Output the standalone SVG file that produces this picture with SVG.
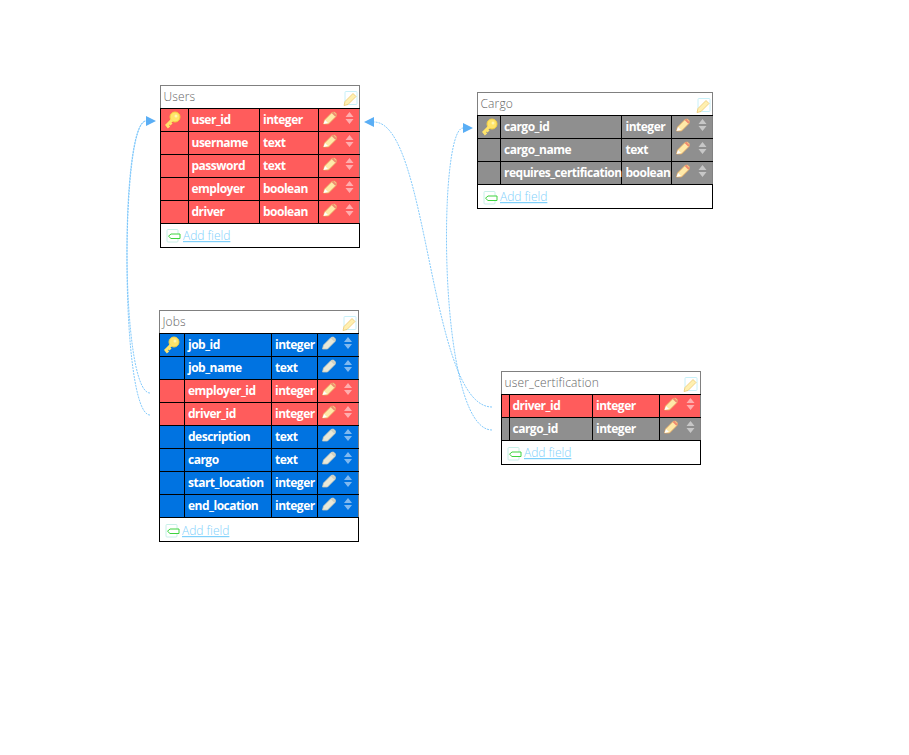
<svg xmlns="http://www.w3.org/2000/svg" xmlns:xlink="http://www.w3.org/1999/xlink" width="909" height="755" viewBox="0 0 909 755">
<style>
text{font-family:"Open Sans","Noto Sans","DejaVu Sans",sans-serif}
.box{fill:#fff;stroke:#000;stroke-width:1;shape-rendering:crispEdges}
.top{stroke:#808080;fill:none;stroke-width:1;shape-rendering:crispEdges}
.sep{stroke:#000;stroke-width:1;shape-rendering:crispEdges;fill:none}
.r{fill:#ff5c5c;shape-rendering:crispEdges}.b{fill:#0073e1;shape-rendering:crispEdges}.g{fill:#8f8f8f;shape-rendering:crispEdges}
.t{font-size:12px;font-weight:300;fill:#666;letter-spacing:.15px}
.f{font-size:12px;font-weight:700;fill:#fff;letter-spacing:-.5px}
.a{font-size:12px;font-weight:300;fill:#7fd0fb;text-decoration:underline}
.c{fill:none;stroke:#76c4fa;stroke-width:.9;stroke-dasharray:2 1}
</style>
<defs>
<marker id="arr" markerUnits="userSpaceOnUse" markerWidth="10" markerHeight="10" refX="0" refY="5" orient="auto"><path d="M0 0L10 5L0 10z" fill="#5aaef5"/></marker>
<g id="key"><circle cx="3" cy="-3" r="5" fill="#ffe46a" stroke="#f5d040"/><circle cx="4" cy="-4" r="1.500" fill="#fff6b0"/><path d="M0 0L-6 6M-5 5L-3 7.500M-2.500 2.500L-.5 4.500" stroke="#ffe46a" stroke-width="3" fill="none"/></g>
<g id="pen"><path d="M-6.500 6L-5.500 2L2-5.500L4.500-6L6.500-4L6-1.500L-1.500 6z" fill="#ffe9a8" stroke="#e8a860" stroke-width=".8"/><path d="M2.500-5.500L6-2" stroke="#f08a70" stroke-width="2"/><path d="M-6.500 6L-5 2L-2 5z" fill="#fff"/></g>
<g id="pen2"><path d="M-6.500 6L-5.500 2L2-5.500L4.500-6L6.500-4L6-1.500L-1.500 6z" fill="#e8e8d8" stroke="#c8c8b8" stroke-width=".8"/><path d="M2.500-5.500L6-2" stroke="#d0d0c0" stroke-width="2"/></g>
<g id="ud"><path d="M-4-1L0-6L4-1zM-4 1L0 6L4 1z" fill="#fff" fill-opacity=".5"/></g>
<g id="tp"><rect x="-6" y="-7" width="12" height="13" rx="1" fill="#fff" stroke="#c8f0f8"/><path d="M-7 7L-6 3L2-5L5-2L-3 6z" fill="#fff0b0" stroke="#ecc870" stroke-width=".8"/></g>
<g id="ad"><rect x="-6" y="-6.500" width="11" height="12.500" rx="1" fill="#fff" stroke="#c8f0e8"/><path d="M-2-2H7V2.500H-2L-4.500 .2z" fill="#fff" stroke="#3ed43e"/></g>
</defs>
<g id="connectors">
<path class="c" d="M150 393C120 393 120 121 146 121" marker-end="url(#arr)"/>
<path class="c" d="M150 415C120 415 120 121 146 121"/>
<path class="c" d="M492 407C429 407 429 122 374 122" marker-end="url(#arr)"/>
<path class="c" d="M492 430C437.500 430 437.500 128 463 128" marker-end="url(#arr)"/>
</g>
<g id="node-users">
<rect class="box" x="160.500" y="85.500" width="199" height="162"/>
<path class="top" d="M160.500 108V85.500H359.500V223"/>
<text class="t" x="163.500" y="101">Users</text><use href="#tp" x="351" y="98.500"/>
<rect class="r" x="161" y="109" width="198" height="114"/>
<path class="sep" d="M160 108.500H360M160 131.500H360M160 154.500H360M160 177.500H360M160 200.500H360M160 223.500H360M188.500 108V223M259.500 108V223M318.500 108V223"/>
<use href="#key" x="172" y="120"/>
<text class="f" x="191.500" y="124">user_id</text><text class="f" x="263" y="124">integer</text><use href="#pen" x="330" y="118"/><use href="#ud" x="349.500" y="118"/>
<text class="f" x="191.500" y="147">username</text><text class="f" x="263" y="147">text</text><use href="#pen" x="330" y="141"/><use href="#ud" x="349.500" y="141"/>
<text class="f" x="191.500" y="170">password</text><text class="f" x="263" y="170">text</text><use href="#pen" x="330" y="164"/><use href="#ud" x="349.500" y="164"/>
<text class="f" x="191.500" y="193">employer</text><text class="f" x="263" y="193">boolean</text><use href="#pen" x="330" y="187"/><use href="#ud" x="349.500" y="187"/>
<text class="f" x="191.500" y="216">driver</text><text class="f" x="263" y="216">boolean</text><use href="#pen" x="330" y="210"/><use href="#ud" x="349.500" y="210"/>
<use href="#ad" x="173" y="236"/><text class="a" x="183" y="240">Add field</text>
</g>
<g id="node-jobs">
<rect class="box" x="159.500" y="310.500" width="199" height="231"/>
<path class="top" d="M159.500 333V310.500H358.500V517"/>
<text class="t" x="162.500" y="326">Jobs</text><use href="#tp" x="350" y="323.500"/>
<rect class="b" x="160" y="334" width="198" height="183"/>
<rect class="r" x="160" y="380" width="198" height="46"/>
<path class="sep" d="M159 333.500H359M159 356.500H359M159 379.500H359M159 402.500H359M159 425.500H359M159 448.500H359M159 471.500H359M159 494.500H359M159 517.500H359M184.500 333V517M271.500 333V517M317.500 333V517"/>
<use href="#key" x="171" y="345"/>
<text class="f" x="188" y="349">job_id</text><text class="f" x="275" y="349">integer</text><use href="#pen2" x="329" y="343"/><use href="#ud" x="348" y="343"/>
<text class="f" x="188" y="372">job_name</text><text class="f" x="275" y="372">text</text><use href="#pen2" x="329" y="366"/><use href="#ud" x="348" y="366"/>
<text class="f" x="188" y="395">employer_id</text><text class="f" x="275" y="395">integer</text><use href="#pen" x="329" y="389"/><use href="#ud" x="348" y="389"/>
<text class="f" x="188" y="418">driver_id</text><text class="f" x="275" y="418">integer</text><use href="#pen" x="329" y="412"/><use href="#ud" x="348" y="412"/>
<text class="f" x="188" y="441">description</text><text class="f" x="275" y="441">text</text><use href="#pen2" x="329" y="435"/><use href="#ud" x="348" y="435"/>
<text class="f" x="188" y="464">cargo</text><text class="f" x="275" y="464">text</text><use href="#pen2" x="329" y="458"/><use href="#ud" x="348" y="458"/>
<text class="f" x="188" y="487">start_location</text><text class="f" x="275" y="487">integer</text><use href="#pen2" x="329" y="481"/><use href="#ud" x="348" y="481"/>
<text class="f" x="188" y="510">end_location</text><text class="f" x="275" y="510">integer</text><use href="#pen2" x="329" y="504"/><use href="#ud" x="348" y="504"/>
<use href="#ad" x="172" y="531"/><text class="a" x="182" y="535">Add field</text>
</g>
<g id="node-cargo">
<rect class="box" x="477.500" y="92.500" width="235" height="116"/>
<path class="top" d="M477.500 115V92.500H712.500V184"/>
<text class="t" x="480.500" y="108">Cargo</text><use href="#tp" x="704" y="105.500"/>
<rect class="g" x="478" y="116" width="234" height="68"/>
<path class="sep" d="M477 115.500H713M477 138.500H713M477 161.500H713M477 184.500H713M500.500 115V184M621.500 115V184M671.500 115V184"/>
<use href="#key" x="489" y="127"/>
<text class="f" x="504" y="131">cargo_id</text><text class="f" x="625.500" y="131">integer</text><use href="#pen" x="683" y="125"/><use href="#ud" x="702.500" y="125"/>
<text class="f" x="504" y="154">cargo_name</text><text class="f" x="625.500" y="154">text</text><use href="#pen" x="683" y="148"/><use href="#ud" x="702.500" y="148"/>
<text class="f" x="504" y="177">requires_certification</text><text class="f" x="625.500" y="177">boolean</text><use href="#pen" x="683" y="171"/><use href="#ud" x="702.500" y="171"/>
<use href="#ad" x="490" y="198"/><text class="a" x="500" y="201">Add field</text>
</g>
<g id="node-user-certification">
<rect class="box" x="501.500" y="371.500" width="199" height="93"/>
<path class="top" d="M501.500 394V371.500H700.500V440"/>
<text class="t" x="504.500" y="387">user_certification</text><use href="#tp" x="691" y="384.500"/>
<rect class="r" x="502" y="395" width="198" height="22"/>
<rect class="g" x="502" y="418" width="198" height="22"/>
<path class="sep" d="M501 394.500H701M501 417.500H701M501 440.500H701M509.500 394V440M592.500 394V440M659.500 394V440"/>
<text class="f" x="512.500" y="410">driver_id</text><text class="f" x="596" y="410">integer</text><use href="#pen" x="671" y="404"/><use href="#ud" x="690.500" y="404"/>
<text class="f" x="512.500" y="433">cargo_id</text><text class="f" x="596" y="433">integer</text><use href="#pen" x="671" y="427"/><use href="#ud" x="690.500" y="427"/>
<use href="#ad" x="514" y="454"/><text class="a" x="524" y="457">Add field</text>
</g>
</svg>
